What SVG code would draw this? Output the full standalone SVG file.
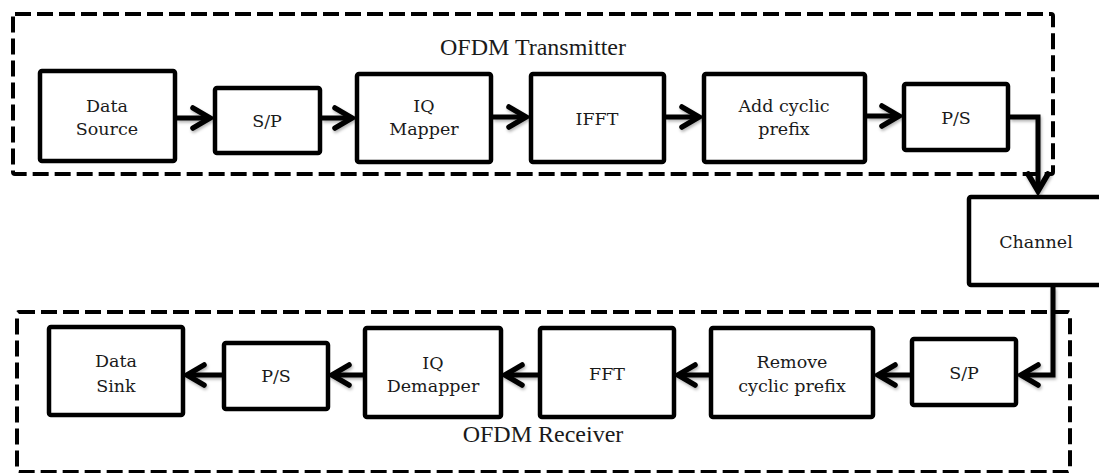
<svg xmlns="http://www.w3.org/2000/svg" width="1099" height="473" viewBox="0 0 1099 473">
<style>
.node{fill:#fff;stroke:#000;stroke-width:4.5;}
.grp{fill:none;stroke:#000;stroke-width:4;stroke-dasharray:16 6;}
.ttl{font-family:"Liberation Serif","Times New Roman",serif;fill:#1a1a1a;text-anchor:middle;font-size:24px;}
.nl{font-family:"DejaVu Serif",serif;fill:#1a1a1a;text-anchor:middle;font-size:17.5px;}
.con{fill:none;stroke:#000;stroke-width:5;stroke-linejoin:miter;marker-end:url(#chev);}
</style>
<defs>
<marker id="chev" markerUnits="userSpaceOnUse" markerWidth="30" markerHeight="30" viewBox="-22 -15 30 30" refX="0" refY="0" orient="auto" overflow="visible">
<path d="M-17,-10 L0,0 L-17,10" fill="none" stroke="#000" stroke-width="5.5" stroke-linecap="round" stroke-linejoin="miter"/>
</marker>
<filter id="sh" x="-20%" y="-20%" width="140%" height="160%">
<feDropShadow dx="1" dy="2" stdDeviation="1.5" flood-color="#000" flood-opacity="0.3"/>
</filter>
</defs>
<g id="groups">
<rect id="tx-group" class="grp" x="13" y="14" width="1040" height="160" rx="2"/>
<rect id="rx-group" class="grp" x="17" y="312" width="1053" height="160" rx="2"/>
<text class="ttl" x="533" y="55">OFDM Transmitter</text>
<text class="ttl" x="543" y="442">OFDM Receiver</text>
</g>
<g id="connectors" filter="url(#sh)">
<path class="con" d="M177,118 L210,118"/>
<path class="con" d="M322,118 L352,118"/>
<path class="con" d="M493,117 L526,117"/>
<path class="con" d="M666,117 L699,117"/>
<path class="con" d="M867,116 L899,116"/>
<path class="con" d="M1010,117 L1038,117 L1038,191"/>
<path class="con" d="M1053,287 L1053,375 L1021,375"/>
<path class="con" d="M910,375 L878,375"/>
<path class="con" d="M709,375 L678,375"/>
<path class="con" d="M538,375 L505,375"/>
<path class="con" d="M363,375 L332,375"/>
<path class="con" d="M222,375 L187,375"/>
</g>
<g id="n-datasource"><rect class="node" x="40" y="71" width="135" height="90" rx="2"/><text class="nl" x="107" y="112">Data</text><text class="nl" x="107" y="135">Source</text></g>
<g id="n-sp-tx"><rect class="node" x="215" y="88" width="105" height="65" rx="2"/><text class="nl" x="267" y="127">S/P</text></g>
<g id="n-iqmapper"><rect class="node" x="357" y="74" width="134" height="88" rx="2"/><text class="nl" x="424" y="112">IQ</text><text class="nl" x="424" y="135">Mapper</text></g>
<g id="n-ifft"><rect class="node" x="531" y="74" width="133" height="88" rx="2"/><text class="nl" x="597" y="125">IFFT</text></g>
<g id="n-addcp"><rect class="node" x="704" y="74" width="161" height="88" rx="2"/><text class="nl" x="784" y="112">Add cyclic</text><text class="nl" x="784" y="135">prefix</text></g>
<g id="n-ps-tx"><rect class="node" x="904" y="84" width="104" height="66" rx="2"/><text class="nl" x="956" y="124">P/S</text></g>
<g id="n-channel"><rect class="node" x="969" y="197" width="135" height="88" rx="2"/><text class="nl" x="1036" y="248">Channel</text></g>
<g id="n-sp-rx"><rect class="node" x="912" y="339" width="104" height="66" rx="2"/><text class="nl" x="964" y="379">S/P</text></g>
<g id="n-removecp"><rect class="node" x="711" y="328" width="162" height="89" rx="2"/><text class="nl" x="792" y="368">Remove</text><text class="nl" x="792" y="392">cyclic prefix</text></g>
<g id="n-fft"><rect class="node" x="540" y="328" width="134" height="89" rx="2"/><text class="nl" x="607" y="380">FFT</text></g>
<g id="n-iqdemapper"><rect class="node" x="365" y="328" width="136" height="89" rx="2"/><text class="nl" x="433" y="369">IQ</text><text class="nl" x="433" y="392">Demapper</text></g>
<g id="n-ps-rx"><rect class="node" x="224" y="343" width="104" height="66" rx="2"/><text class="nl" x="276" y="382">P/S</text></g>
<g id="n-datasink"><rect class="node" x="49" y="327" width="134" height="88" rx="2"/><text class="nl" x="116" y="367">Data</text><text class="nl" x="116" y="392">Sink</text></g>
</svg>
